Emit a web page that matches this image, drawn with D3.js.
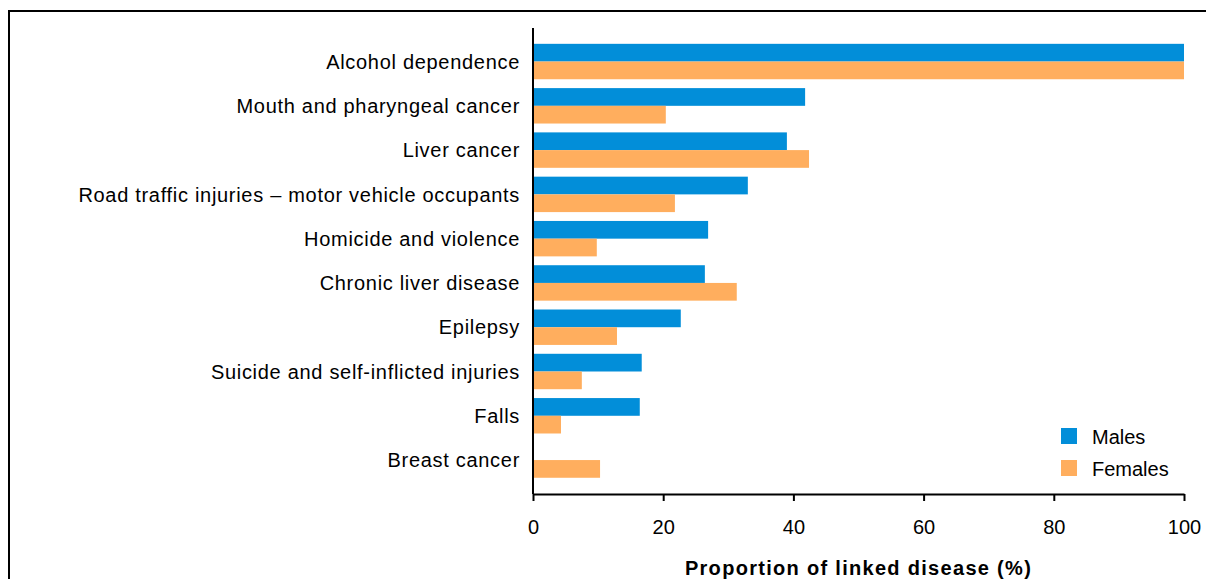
<!DOCTYPE html>
<html lang="en">
<head>
<meta charset="UTF-8">
<title>Proportion of linked disease</title>
<script src="https://d3js.org/d3.v7.min.js"></script>
<style>
  body { margin: 0; background: #fff; }
  text { font-family: "Liberation Sans", Arial, sans-serif; fill: #000; }
</style>
</head>
<body>
<div id="chart"></div>
<script>
// data
var categories = ["Alcohol dependence", "Mouth and pharyngeal cancer", "Liver cancer",
    "Road traffic injuries \u2013 motor vehicle occupants", "Homicide and violence",
    "Chronic liver disease", "Epilepsy", "Suicide and self-inflicted injuries", "Falls", "Breast cancer"];
var males   = [100, 41.8, 39.0, 33.0, 26.9, 26.4, 22.7, 16.7, 16.4, null];
var females = [100, 20.4, 42.4, 21.8, 9.8, 31.3, 12.9, 7.5, 4.3, 10.3];
var seriesNames = ["Males", "Females"];
var colors = ["#028ed9", "#ffae5e"];
var xTicks = [0, 20, 40, 60, 80, 100];

var W = 1206, H = 579;
var svg = d3.select("#chart").append("svg")
    .attr("width", W)
    .attr("height", H);

// outer frame (runs off the right and bottom of the picture)
svg.append("rect")
    .attr("x", 9).attr("y", 11)
    .attr("width", W + 20).attr("height", H + 20)
    .attr("fill", "none")
    .attr("stroke", "#000")
    .attr("stroke-width", 2);

var x = d3.scaleLinear().domain([0, 100]).range([533, 1184]);
var y = d3.scaleBand().domain(categories)
    .range([39.4, 482.2])
    .paddingInner(0.2)
    .paddingOuter(0.1);
var ySub = d3.scaleBand().domain(seriesNames).range([0, y.bandwidth()]);

var rows = categories.map(function (c, i) {
    return { cat: c, values: [males[i], females[i]] };
});

var groups = svg.append("g").selectAll("g")
    .data(rows)
    .join("g")
    .attr("transform", function (d) { return "translate(0," + y(d.cat) + ")"; });

groups.selectAll("rect")
    .data(function (d) {
        return d.values.map(function (v, j) { return { name: seriesNames[j], v: v, j: j }; })
            .filter(function (e) { return e.v != null; });
    })
    .join("rect")
    .attr("x", x(0))
    .attr("y", function (e) { return ySub(e.name); })
    .attr("height", ySub.bandwidth())
    .attr("width", function (e) { return x(e.v) - x(0); })
    .attr("fill", function (e) { return colors[e.j]; });

// category labels
svg.append("g").selectAll("text")
    .data(categories)
    .join("text")
    .attr("x", 520)
    .attr("y", function (d) { return y(d) + y.bandwidth() / 2; })
    .attr("dy", "0.36em")
    .attr("text-anchor", "end")
    .style("font-size", "20px")
    .style("letter-spacing", "0.7px")
    .text(function (d) { return d; });

// y axis line
svg.append("line")
    .attr("x1", x(0)).attr("x2", x(0))
    .attr("y1", 28).attr("y2", 494)
    .attr("stroke", "#000").attr("stroke-width", 2);

// x axis
var xAxis = svg.append("g")
    .attr("transform", "translate(0,494)")
    .call(d3.axisBottom(x).tickValues(xTicks).tickSize(7).tickSizeOuter(0).tickPadding(19));
xAxis.select(".domain").attr("stroke", "#000").attr("stroke-width", 2);
xAxis.selectAll(".tick line").attr("stroke", "#000").attr("stroke-width", 2);
xAxis.selectAll(".tick text")
    .attr("fill", "#000")
    .style("font-family", "\"Liberation Sans\", Arial, sans-serif")
    .style("font-size", "20px");

svg.append("text")
    .attr("x", (x(0) + x(100)) / 2)
    .attr("y", 575)
    .attr("text-anchor", "middle")
    .style("font-size", "20px")
    .style("font-weight", "bold")
    .style("letter-spacing", "1.3px")
    .text("Proportion of linked disease (%)");

// legend
var legend = svg.append("g").selectAll("g")
    .data(seriesNames)
    .join("g")
    .attr("transform", function (d, i) { return "translate(1061," + (428 + i * 32) + ")"; });
legend.append("rect")
    .attr("width", 16).attr("height", 16)
    .attr("fill", function (d, i) { return colors[i]; });
legend.append("text")
    .attr("x", 31).attr("y", 9)
    .attr("dy", "0.35em")
    .style("font-size", "20px")
    .text(function (d) { return d; });
</script>
</body>
</html>
